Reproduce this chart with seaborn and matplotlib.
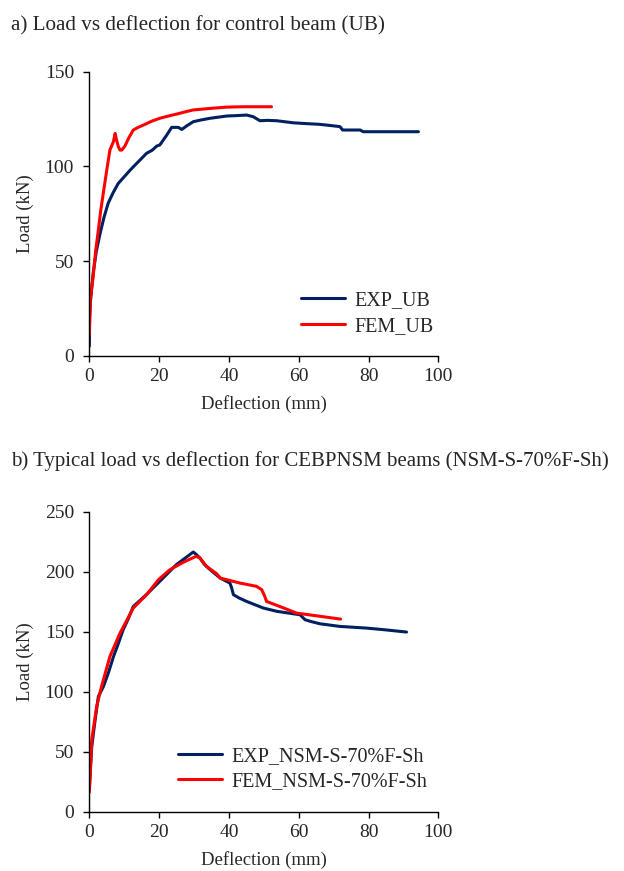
import numpy as np
import pandas as pd
import matplotlib
matplotlib.use("Agg")
import matplotlib.pyplot as plt
import seaborn as sns

# --- a) control beam (UB) ---
exp_ub_x = [0, 0.0, 0.1, 0.3, 1.1, 2.0, 3.1, 4.2, 5.4, 6.8, 8.3, 10.0, 11.7, 13.0, 14.5,
            16.4, 18.0, 19.3, 20.2, 22.0, 23.6, 25.5, 26.5, 28.0, 29.8, 32.0, 34.6,
            37.0, 39.4, 42.0, 45.1, 47.0, 48.9, 51.0, 53.7, 58.5, 62.0, 66.0, 69.0,
            71.8, 72.6, 77.6, 78.5, 85.0, 94.3]
exp_ub_y = [0, 10, 20, 28, 43.5, 55, 64.6, 73, 80.5, 86, 91, 94.5, 98, 100.5, 103.3,
            106.9, 108.5, 110.7, 111.3, 116, 120.6, 120.6, 119.5, 121.5, 123.6, 124.5, 125.4,
            126, 126.6, 126.8, 127.1, 126.2, 124.1, 124.3, 124.1, 123, 122.6, 122.2, 121.6,
            121, 119.2, 119.2, 118.3, 118.3, 118.3]

fem_ub_x = [0, 0.0, 0.3, 1.1, 1.8, 2.6, 3.3, 4.0, 5.0, 5.9, 6.9, 7.4, 7.8, 8.3, 8.8,
            9.3, 10.2, 11.3, 12.6, 14.0, 15.5, 17.8, 20.2, 22.5, 25.0, 27.5, 29.8,
            34.6, 39.4, 44.1, 52.2]
fem_ub_y = [0, 22.4, 30, 41.7, 55, 66.4, 77, 85.7, 98, 108.6, 113, 117.4, 114, 110.5, 108.6,
            108.6, 110.7, 115, 119.2, 120.6, 121.8, 123.8, 125.4, 126.5, 127.6, 128.8, 129.8,
            130.6, 131.3, 131.5, 131.5]

# --- b) CEBPNSM beam (NSM-S-70%F-Sh) ---
exp_nsm_x = [0, 0.0, 0.7, 1.6, 2.6, 4.0, 5.5, 6.9, 8.3, 9.7, 11.2, 12.6, 14.5, 16.4,
             20.2, 25.0, 29.8, 30.6, 31.7, 33.0, 34.6, 37.5, 40.3, 40.8, 41.3, 43.0,
             45.1, 49.9, 53.7, 60.4, 61.8, 63.5, 66.1, 71.8, 79.5, 85.0, 90.9]
exp_nsm_y = [0, 37.5, 54, 75, 96, 104, 116, 129, 140, 151.6, 161, 171, 176, 181,
             192, 206, 216.4, 214.5, 211.4, 206, 201.7, 194.7, 190.5, 186.4, 180.8, 178,
             175.2, 169.7, 167, 164.1, 160, 158.5, 156.6, 154.4, 153, 151.5, 149.7]

fem_nsm_x = [0, 0.0, 0.7, 2.1, 3.5, 5.9, 8.8, 12.6, 16.4, 19.8, 23.1, 26.9, 30.6,
             31.7, 33.6, 36.5, 37.5, 43.2, 47.9, 49.4, 50.2, 50.8, 54.6, 59.4, 64.2, 72.0]
fem_nsm_y = [0, 32, 59.8, 87.6, 104.3, 129.3, 148.8, 169.7, 180.8, 193.3, 201.7, 207.8, 212.8,
             211.4, 204.4, 198.3, 194.7, 190.5, 187.8, 185, 180, 175.2, 171, 165.5, 163.6, 160.5]

NAVY = "#002060"
RED = "#ff0000"
W, H = 624, 871

sns.set_style("ticks")
plt.rcParams["font.family"] = ["Liberation Serif", "DejaVu Serif"]
plt.rcParams["axes.linewidth"] = 1.0

fig = plt.figure(figsize=(W / 100, H / 100), dpi=100)
ax1 = fig.add_axes([89.3 / W, 1 - 355.7 / H, 349 / W, 284 / H])
ax2 = fig.add_axes([89.3 / W, 1 - 811.7 / H, 349 / W, 300 / H])


def draw(ax, ex, ey, fx, fy, labels, ymax, leg_xy):
    df_e = pd.DataFrame({"x": ex, "y": ey})
    df_f = pd.DataFrame({"x": fx, "y": fy})
    sns.lineplot(data=df_e, x="x", y="y", sort=False, color=NAVY, lw=2.2,
                 label=labels[0], ax=ax)
    sns.lineplot(data=df_f, x="x", y="y", sort=False, color=RED, lw=2.2,
                 label=labels[1], ax=ax)
    ax.set_xlim(0, 100)
    ax.set_ylim(0, ymax)
    ax.set_xticks(np.arange(0, 101, 20))
    ax.set_yticks(np.arange(0, ymax + 1, 50))
    ax.set_xlabel("Deflection (mm)", fontsize=13.5, labelpad=7)
    ax.set_ylabel("Load (kN)", fontsize=13.5, labelpad=8)
    ax.tick_params(axis="both", labelsize=14, length=4, width=1.0, color="black")
    ax.tick_params(axis="x", pad=5)
    ax.tick_params(axis="y", pad=7)
    for s in ["top", "right"]:
        ax.spines[s].set_visible(False)
    for s in ["left", "bottom"]:
        ax.spines[s].set_color("black")
    ax.legend(loc="center left", bbox_to_anchor=(leg_xy[0] / W, 1 - leg_xy[1] / H),
              bbox_transform=fig.transFigure, frameon=False, fontsize=14.5,
              handlelength=2.2, handletextpad=0.45, borderpad=0, borderaxespad=0,
              labelspacing=0.3)


draw(ax1, exp_ub_x, exp_ub_y, fem_ub_x, fem_ub_y, ["EXP_UB", "FEM_UB"], 150, (300.7, 313.5))
draw(ax2, exp_nsm_x, exp_nsm_y, fem_nsm_x, fem_nsm_y,
     ["EXP_NSM-S-70%F-Sh", "FEM_NSM-S-70%F-Sh"], 250, (178, 768.7))

fig.text(11 / W, 1 - 26 / H, "a) Load vs deflection for control beam (UB)",
         fontsize=15.2, va="center", ha="left")
fig.text(11 / W, 1 - 461 / H,
         "b) Typical load vs deflection for CEBPNSM beams (NSM-S-70%F-Sh)",
         fontsize=15.0, va="center", ha="left")

fig.savefig("out.png", dpi=100)
